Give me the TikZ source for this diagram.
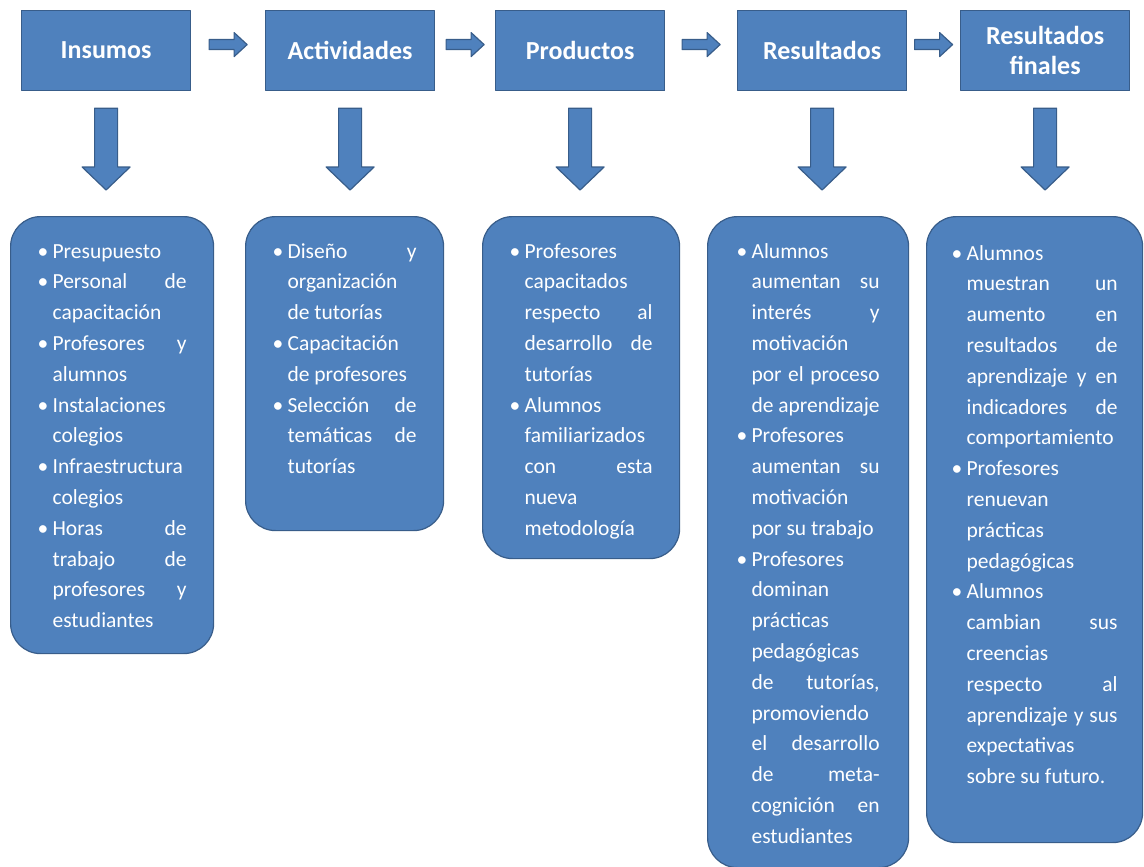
\documentclass[tikz,border=0pt]{standalone}
\usepackage{fontspec}
\setmainfont{Carlito}
\usetikzlibrary{calc}
\definecolor{boxblue}{HTML}{4F81BD}
\definecolor{boxedge}{HTML}{385D8A}
\newcommand{\itm}[1]{\hangindent=15pt\hangafter=1\noindent\makebox[15pt][l]{\textbullet}#1\par}

\begin{document}
\begin{tikzpicture}[x=1pt, y=-1pt,
			line join=round,
			every node/.style = {text=white, draw=boxedge, fill=boxblue, line width=1.2pt, anchor=north west},
			stagebox/.style = {minimum width=169pt, minimum height=80pt, inner sep=0pt, align=center,
				font=\fontsize{26}{30}\selectfont\bfseries},
			itembox/.style = {rounded corners=30pt, inner ysep=0pt, inner xsep=27pt, align=justify,
				text height=41.5pt, font=\fontsize{21.5}{30.8}\selectfont},
			downarrow/.style = {draw=boxedge, fill=boxblue, line width=1.2pt,
				to path={let \p1=(\tikztostart), \p2=(\tikztotarget) in
					(\x1-11.5pt,\y1-17pt) -- (\x1+11.5pt,\y1-17pt) -- (\x1+11.5pt,\y2+49pt) --
					(\x1+24pt,\y2+49pt) -- (\x1,\y2+26pt) -- (\x1-24pt,\y2+49pt) --
					(\x1-11.5pt,\y2+49pt) -- cycle}},
			rightarrow/.style = {draw=boxedge, fill=boxblue, line width=1.2pt,
				to path={let \p1=($(\tikztostart)!.5!(\tikztotarget)$) in
					(\x1-19pt,\y1+1pt) -- (\x1+6pt,\y1+1pt) -- (\x1+6pt,\y1-6pt) --
					(\x1+19pt,\y1+6pt) -- (\x1+6pt,\y1+18pt) -- (\x1+6pt,\y1+11pt) --
					(\x1-19pt,\y1+11pt) -- cycle}}
			]
			\useasboundingbox (0,0) rectangle (1144,867);

			\node[stagebox] (ins) at (21,10) {Insumos};
			\node[stagebox] (act) at (265,10) {Actividades};
			\node[stagebox] (pro) at (495,10) {Productos};
			\node[stagebox] (res) at (737,10) {Resultados};
			\node[stagebox] (fin) at (960,10) {Resultados\\finales};

			\node[itembox, text width=149pt, text depth=395.5pt] (insl) at (10,216) {%
				\itm{Presupuesto}%
				\itm{Personal de\linebreak capacitación}%
				\itm{Profesores y\linebreak alumnos}%
				\itm{Instalaciones\linebreak colegios}%
				\itm{Infraestructura\linebreak colegios}%
				\itm{Horas de\linebreak trabajo de\linebreak profesores y\linebreak estudiantes}};
			\node[itembox, text width=144pt, text depth=272.5pt] (actl) at (245,216) {%
				\itm{Diseño y\linebreak organización\linebreak de tutorías}%
				\itm{Capacitación\linebreak de profesores}%
				\itm{Selección de\linebreak temáticas de\linebreak tutorías}};
			\node[itembox, text width=143pt, text depth=300.5pt] (prol) at (482,216) {%
				\itm{Profesores\linebreak capacitados\linebreak respecto al\linebreak desarrollo de\linebreak tutorías}%
				\itm{Alumnos\linebreak familiarizados\linebreak con esta\linebreak nueva\linebreak metodología}};
			\node[itembox, inner xsep=29pt, text width=143pt, text depth=609.5pt] (resl) at (707,216) {%
				\itm{Alumnos\linebreak aumentan su\linebreak interés y\linebreak motivación\linebreak por el proceso\linebreak de aprendizaje}%
				\itm{Profesores\linebreak aumentan su\linebreak motivación\linebreak por su trabajo}%
				\itm{Profesores\linebreak dominan\linebreak prácticas\linebreak pedagógicas\linebreak de tutorías,\linebreak promoviendo\linebreak el desarrollo\linebreak de meta-\linebreak cognición en\linebreak estudiantes}};
			\node[itembox, inner xsep=25pt, text width=166pt, text height=43.5pt, text depth=582.5pt] (finl) at (926,216) {%
				\itm{Alumnos\linebreak muestran un\linebreak aumento en\linebreak resultados de\linebreak aprendizaje y en\linebreak indicadores de\linebreak comportamiento}%
				\itm{Profesores\linebreak renuevan\linebreak prácticas\linebreak pedagógicas}%
				\itm{Alumnos\linebreak cambian sus\linebreak creencias\linebreak respecto al\linebreak aprendizaje y sus\linebreak expectativas\linebreak sobre su futuro.}};

			\draw[rightarrow] (ins.east) to (act.west);
			\draw[rightarrow] (act.east) to (pro.west);
			\draw[rightarrow] (pro.east) to (res.west);
			\draw[rightarrow] (res.east) to (fin.west);

			\draw[downarrow] (ins.south) to (insl.north);
			\draw[downarrow] (act.south) to (actl.north);
			\draw[downarrow] (pro.south) to (prol.north);
			\draw[downarrow] (res.south) to (resl.north);
			\draw[downarrow] (fin.south) to (finl.north);
\end{tikzpicture}
\end{document}
